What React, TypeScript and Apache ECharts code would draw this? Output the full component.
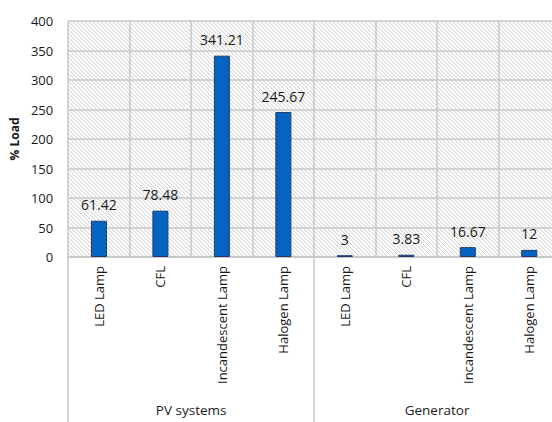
import React, { useEffect, useRef } from "react";
import * as echarts from "echarts";

const categories = ["LED Lamp", "CFL", "Incandescent Lamp", "Halogen Lamp", "LED Lamp", "CFL", "Incandescent Lamp", "Halogen Lamp"];
const groups = ["PV systems", "Generator"];
const loadValues = [61.42, 78.48, 341.21, 245.67, 3, 3.83, 16.67, 12];
const yTicks = { min: 0, max: 400, interval: 50 };

const FONT = "Open Sans";

export default function App() {
  const ref = useRef<HTMLDivElement>(null);
  useEffect(() => {
    document.body.style.margin = "0";
    const chart = echarts.init(ref.current!, null, { renderer: "svg" });
    chart.setOption({
      animation: false,
      backgroundColor: "#ffffff",
      textStyle: { fontFamily: FONT },
      grid: { left: 68, top: 21, right: 0, bottom: 165 },
      xAxis: [
        {
          type: "category",
          data: categories,
          position: "bottom",
          axisLine: { show: true, lineStyle: { color: "#c4c4c4", width: 1.5 } },
          axisTick: { show: false },
          splitLine: { show: true, interval: 0, lineStyle: { color: "#c8c8c8", width: 1.5 } },
          axisLabel: {
            interval: 0,
            rotate: 90,
            margin: 9,
            fontSize: 13,
            color: "#1a1a1a",
            fontFamily: FONT,
          },
        },
        {
          type: "category",
          data: groups,
          position: "bottom",
          axisLine: { show: false },
          axisTick: { show: true, length: 170, lineStyle: { color: "#c4c4c4", width: 1.5 } },
          axisLabel: { interval: 0, margin: 146, fontSize: 13.5, color: "#1a1a1a", fontFamily: FONT },
          splitLine: { show: false },
        },
      ],
      yAxis: {
        type: "value",
        min: yTicks.min,
        max: yTicks.max,
        interval: yTicks.interval,
        name: "% Load",
        nameLocation: "middle",
        nameGap: 44,
        nameRotate: 90,
        nameTextStyle: { fontWeight: "bold", fontSize: 12, color: "#1a1a1a", fontFamily: FONT },
        axisLine: { show: false },
        axisTick: { show: false },
        axisLabel: { fontSize: 13, color: "#1a1a1a", margin: 15, fontFamily: FONT },
        splitLine: { show: true, lineStyle: { color: "#c8c8c8", width: 1.5 } },
      },
      series: [
        {
          type: "custom",
          xAxisIndex: 0,
          z: -1,
          silent: true,
          data: [0],
          renderItem: (params: any, api: any) => {
            const cs = params.coordSys;
            const x0 = cs.x, y0 = cs.y, x1 = cs.x + cs.width, y1 = cs.y + cs.height;
            const step = 4;
            const children: any[] = [];
            for (let c = x0 - y1; c <= x1 - y0; c += step) {
              const ya = Math.max(y0, x0 - c);
              const yb = Math.min(y1, x1 - c);
              if (yb <= ya) continue;
              children.push({
                type: "line",
                shape: { x1: ya + c, y1: ya, x2: yb + c, y2: yb },
                style: { stroke: "#cbcbcb", lineWidth: 1 },
              });
            }
            return { type: "group", children };
          },
        },
        {
          type: "bar",
          xAxisIndex: 0,
          data: loadValues,
          barWidth: 16,
          itemStyle: { color: "#0563C1", borderColor: "#1F3A6B", borderWidth: 1 },
          label: {
            show: true,
            position: "top",
            distance: 9,
            fontSize: 14,
            color: "#1a1a1a",
            fontFamily: FONT,
          },
        },
      ],
    });
    return () => chart.dispose();
  }, []);
  return (
    <div style={{ width: 552, height: 422, overflow: "hidden" }}>
      <div ref={ref} style={{ width: 560, height: 422 }} />
    </div>
  );
}
